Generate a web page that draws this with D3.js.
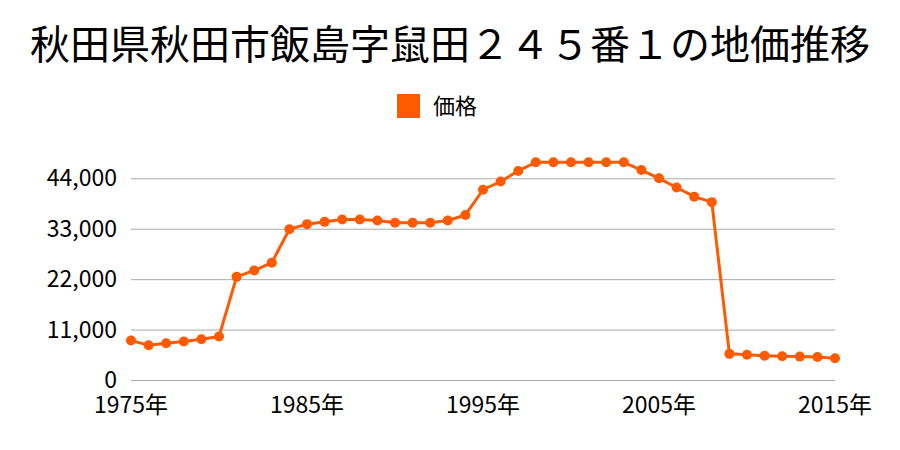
<!DOCTYPE html>
<meta charset="UTF-8">
<style>
body { margin: 0; background: #fff; }
text { font-family: "Noto Sans CJK JP", "Noto Sans", sans-serif; fill: #000; }
.grid line { stroke: #aaa; stroke-width: 1; }
.grid path { display: none; }
</style>
<body>
<script src="https://d3js.org/d3.v7.min.js"></script>
<script>
// data
var years = d3.range(1975, 2016);
var prices = [8600, 7600, 8000, 8400, 8900, 9500, 22500, 23900, 25600, 32900,
              34000, 34500, 35000, 35000, 34800, 34300, 34300, 34300, 34800, 36000,
              41500, 43300, 45600, 47500, 47500, 47500, 47500, 47500, 47500, 45800,
              44000, 42000, 40000, 38800, 5700, 5500, 5300, 5200, 5100, 5000, 4750];
var yTicks = [0, 11000, 22000, 33000, 44000];
var xTicks = [1975, 1985, 1995, 2005, 2015];
var title = "秋田県秋田市飯島字鼠田２４５番１の地価推移";
var seriesName = "価格";
var color = "#ff5a00";

var width = 900, height = 450;
var margin = {top: 178, right: 65, bottom: 70, left: 131};

var svg = d3.select("body").append("svg")
    .attr("width", width)
    .attr("height", height);

var x = d3.scaleLinear()
    .domain([1975, 2015])
    .range([margin.left, width - margin.right]);

// 44000 sits at the top gridline (y=178), 0 at y=380
var y = d3.scaleLinear()
    .domain([0, 44000])
    .range([380, 178.3]);

// title
svg.append("text")
    .attr("x", width / 2)
    .attr("y", 59)
    .attr("text-anchor", "middle")
    .style("font-size", "40px")
    .text(title);

// legend
svg.append("rect")
    .attr("x", 397)
    .attr("y", 94)
    .attr("width", 23)
    .attr("height", 24)
    .attr("fill", color);
svg.append("text")
    .attr("x", 433)
    .attr("y", 114)
    .style("font-size", "22px")
    .text(seriesName);

// gridlines
svg.append("g")
    .attr("class", "grid")
    .attr("transform", "translate(" + margin.left + ",0)")
    .call(d3.axisLeft(y).tickValues(yTicks).tickSize(-(width - margin.right - margin.left)).tickFormat(""));

// y labels
svg.append("g")
    .selectAll("text")
    .data(yTicks)
  .enter().append("text")
    .attr("x", 117)
    .attr("y", function(d) { return y(d); })
    .attr("dy", "0.35em")
    .attr("text-anchor", "end")
    .style("font-size", "23px")
    .text(function(d) { return d3.format(",")(d); });

// x labels
svg.append("g")
    .selectAll("text")
    .data(xTicks)
  .enter().append("text")
    .attr("x", function(d) { return x(d); })
    .attr("y", 413)
    .attr("text-anchor", "middle")
    .style("font-size", "23px")
    .text(function(d) { return d + "年"; });

var pts = years.map(function(yr, i) { return [yr, prices[i]]; });

svg.append("path")
    .datum(pts)
    .attr("fill", "none")
    .attr("stroke", color)
    .attr("stroke-width", 3)
    .attr("stroke-linejoin", "round")
    .attr("d", d3.line()
        .x(function(d) { return x(d[0]); })
        .y(function(d) { return y(d[1]); }));

svg.append("g")
    .selectAll("circle")
    .data(pts)
  .enter().append("circle")
    .attr("cx", function(d) { return x(d[0]); })
    .attr("cy", function(d) { return y(d[1]); })
    .attr("r", 5)
    .attr("fill", color);
</script>
</body>
